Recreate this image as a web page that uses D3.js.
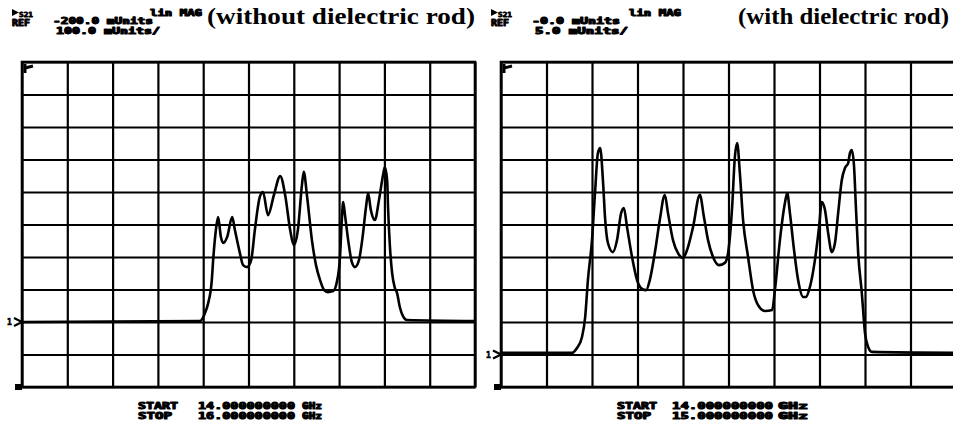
<!DOCTYPE html>
<html>
<head>
<meta charset="utf-8">
<script src="https://cdn.jsdelivr.net/npm/d3@7"></script>
<style>
  html, body { margin: 0; padding: 0; background: #fff; }
  svg { display: block; }
</style>
</head>
<body>
<svg id="chart" width="953" height="428"></svg>
<script>
// S21 transmission, linear magnitude, read in graticule divisions (0 = bottom line)
const freqNoRod = [14.000, 14.786, 14.808, 14.822, 14.838, 14.844, 14.856, 14.866, 14.878, 14.888,
  14.906, 14.928, 14.940, 14.962, 14.976, 14.994, 15.012, 15.028, 15.050, 15.064, 15.086, 15.112,
  15.140, 15.162, 15.184, 15.200, 15.218, 15.236, 15.244, 15.258, 15.280, 15.298, 15.316, 15.334,
  15.350, 15.374, 15.390, 15.404, 15.412, 15.418, 15.426, 15.440, 15.456, 15.470, 15.488, 15.502,
  15.520, 15.528, 15.540, 15.558, 15.576, 15.594, 15.602, 15.612, 15.616, 15.624, 15.634, 15.646,
  15.656, 15.668, 15.682, 15.700, 16.000];
const magNoRod = [2.00, 2.03, 2.28, 2.58, 3.29, 3.91, 4.83, 5.23, 4.62, 4.43,
  4.62, 5.23, 4.83, 4.12, 3.75, 3.69, 3.91, 4.83, 5.85, 6.00, 5.29, 5.90,
  6.49, 5.90, 4.83, 4.37, 4.83, 6.22, 6.62, 5.90, 4.52, 3.75, 3.29, 2.98,
  2.92, 2.95, 3.23, 4.00, 5.14, 5.69, 5.29, 4.52, 3.85, 3.69, 3.91, 4.52,
  5.60, 5.97, 5.45, 5.14, 5.75, 6.52, 6.77, 6.37, 5.54, 4.37, 3.51, 3.05,
  2.89, 2.46, 2.18, 2.06, 2.03];

const freqRod = [14.000, 14.156, 14.167, 14.178, 14.185, 14.191, 14.200, 14.207, 14.213, 14.218,
  14.224, 14.229, 14.235, 14.246, 14.255, 14.264, 14.270, 14.277, 14.288, 14.299, 14.310, 14.319,
  14.327, 14.338, 14.349, 14.360, 14.367, 14.378, 14.389, 14.400, 14.409, 14.422, 14.437, 14.446,
  14.455, 14.466, 14.479, 14.492, 14.499, 14.508, 14.514, 14.519, 14.525, 14.532, 14.543, 14.554,
  14.565, 14.580, 14.596, 14.602, 14.613, 14.624, 14.629, 14.635, 14.644, 14.653, 14.664, 14.670,
  14.679, 14.690, 14.699, 14.705, 14.712, 14.719, 14.727, 14.734, 14.741, 14.749, 14.756, 14.763,
  14.767, 14.771, 14.776, 14.780, 14.785, 14.793, 14.800, 14.807, 14.815, 15.000];
const magRod = [1.05, 1.05, 1.20, 1.54, 2.15, 3.29, 4.52, 6.06, 7.20, 7.35,
  6.37, 5.14, 4.43, 4.15, 4.52, 5.35, 5.51, 4.92, 4.00, 3.29, 3.02, 2.98,
  3.29, 4.12, 5.14, 5.91, 5.35, 4.52, 4.12, 3.97, 4.22, 4.92, 5.91, 5.23,
  4.52, 4.00, 3.75, 3.82, 4.12, 5.54, 7.08, 7.51, 6.58, 5.14, 4.00, 2.98,
  2.52, 2.34, 2.37, 2.98, 4.52, 5.66, 5.97, 5.35, 4.22, 3.29, 2.77, 2.77,
  3.08, 3.91, 4.92, 5.69, 5.45, 4.74, 4.15, 4.43, 5.35, 6.37, 6.74, 6.89,
  7.20, 7.29, 6.77, 5.54, 4.12, 2.89, 1.66, 1.23, 1.08, 1.05];

// Analyzer annotation text
const titles = ["(without dielectric rod)", "(with dielectric rod)"];
const refValues = ["-200.0 mUnits", "-0.0 mUnits"];
const scaleValues = ["100.0 mUnits/", "5.0 mUnits/"];
const startLabels = ["14.000000000", "14.000000000"];
const stopLabels = ["16.000000000", "15.000000000"];
const refPositions = [2, 1];
const freqSpans = [[14, 16], [14, 15]];

const svg = d3.select("#chart");
const mono = "'DejaVu Sans Mono', monospace";

// heavy plotter-style text fitted to a given width
function plotText(g, x, y, str, size, width, weight) {
  const t = g.append("text").attr("x", x).attr("y", y)
    .attr("font-family", mono).attr("font-weight", "bold").attr("font-size", size)
    .attr("stroke", "#000").attr("stroke-width", weight || 1).attr("stroke-linejoin", "round")
    .text(str);
  if (width) t.attr("textLength", width).attr("lengthAdjust", "spacingAndGlyphs");
  return t;
}

function drawPanel(i, freq, mag, box) {
  const x = d3.scaleLinear().domain(freqSpans[i]).range([box.left, box.right]);
  const y = d3.scaleLinear().domain([0, 10]).range([box.bottom, box.top]);
  const g = svg.append("g");

  const step = (freqSpans[i][1] - freqSpans[i][0]) / 10;
  const xTicks = d3.range(11).map(k => freqSpans[i][0] + k * step);

  // graticule
  g.append("g")
    .attr("transform", `translate(0,${box.bottom})`)
    .call(d3.axisBottom(x).tickValues(xTicks).tickSize(-(box.bottom - box.top)).tickFormat(""))
    .call(a => a.select(".domain").remove())
    .call(a => a.selectAll("line").attr("stroke", "#000").attr("stroke-width", 2.2));
  g.append("g")
    .attr("transform", `translate(${box.left},0)`)
    .call(d3.axisLeft(y).tickValues(d3.range(11)).tickSize(-(box.right - box.left)).tickFormat(""))
    .call(a => a.select(".domain").remove())
    .call(a => a.selectAll("line").attr("stroke", "#000").attr("stroke-width", 2.2));
  g.append("rect")
    .attr("x", box.left).attr("y", box.top)
    .attr("width", box.right - box.left).attr("height", box.bottom - box.top)
    .attr("fill", "none").attr("stroke", "#000").attr("stroke-width", 2.6);

  // trace
  const line = d3.line()
    .x((d, k) => x(freq[k]))
    .y(d => y(d))
    .curve(d3.curveMonotoneX);
  g.append("path")
    .datum(mag)
    .attr("d", line)
    .attr("fill", "none")
    .attr("stroke", "#000")
    .attr("stroke-width", 2.6)
    .attr("stroke-linejoin", "round");

  // reference marker "1>"
  const ry = y(refPositions[i]);
  g.append("text").attr("x", box.left - 15).attr("y", ry + 3)
    .attr("font-family", mono).attr("font-weight", "bold").attr("font-size", 8)
    .attr("stroke", "#000").attr("stroke-width", 0.6).text("1");
  g.append("path")
    .attr("d", `M${box.left - 8},${ry - 4}L${box.left},${ry}L${box.left - 8},${ry + 4}`)
    .attr("fill", "none").attr("stroke", "#000").attr("stroke-width", 2.2);

  // corner marks
  g.append("path")
    .attr("d", `M${box.left + 3},${box.top + 2}L${box.left + 3},${box.top + 11}M${box.left + 3},${box.top + 6}L${box.left + 11},${box.top + 4}`)
    .attr("fill", "none").attr("stroke", "#000").attr("stroke-width", 3);
  g.append("rect")
    .attr("x", box.left - 7).attr("y", box.bottom - 3)
    .attr("width", 7).attr("height", 6).attr("fill", "#000");

  // header block
  const h = box.left;
  g.append("path")
    .attr("d", `M${h - 10},${9}L${h - 3},${12.5}L${h - 10},${16}Z`).attr("fill", "#000");
  plotText(g, h - 3, 17, "S21", 7, 14, 0.8);
  plotText(g, h - 10, 26, "REF", 8, 18, 0.9);
  plotText(g, h + 31, 24, refValues[i], 8, box.refW);
  plotText(g, h + 34, 33.5, scaleValues[i], 8, box.scaleW);
  plotText(g, h + 128, 16, "lin MAG", 8, 52);

  // title
  g.append("text").attr("x", box.titleX).attr("y", 24)
    .attr("font-family", "'Liberation Serif', 'Times New Roman', serif")
    .attr("font-weight", "bold").attr("font-size", 23)
    .attr("textLength", box.titleW).attr("lengthAdjust", "spacingAndGlyphs")
    .text(titles[i]);

  // sweep limits
  const sx = box.startX;
  [["START", startLabels[i], 408.5], ["STOP", stopLabels[i], 418.5]].forEach(([lab, val, yy]) => {
    plotText(g, sx, yy, lab, 8.5, lab === "START" ? 40 : 34);
    plotText(g, sx + box.numDx, yy, val, 8.5, box.numW);
    plotText(g, sx + box.ghzDx, yy, "GHz", 8.5, box.ghzW);
  });
}

drawPanel(0, freqNoRod, magNoRod,
  { left: 22, right: 475, top: 62, bottom: 387, titleX: 207, titleW: 268, startX: 138,
    refW: 100, scaleW: 104, numDx: 60, numW: 97, ghzDx: 164, ghzW: 20 });
drawPanel(1, freqRod, magRod,
  { left: 501, right: 956, top: 62, bottom: 387, titleX: 738, titleW: 211, startX: 617,
    refW: 88, scaleW: 93, numDx: 55, numW: 101, ghzDx: 161, ghzW: 30 });
</script>
</body>
</html>
